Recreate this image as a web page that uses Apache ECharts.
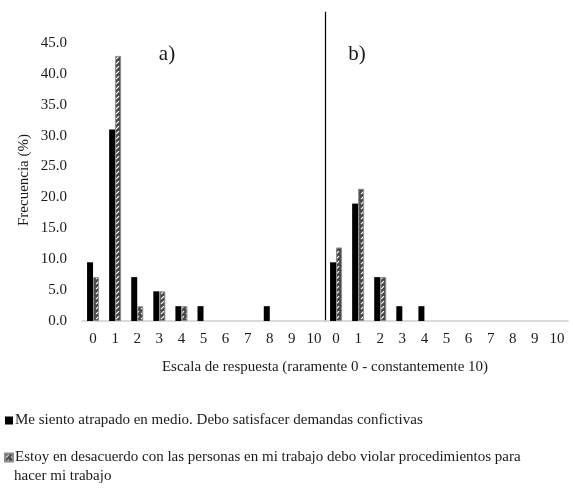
<!DOCTYPE html>
<html>
<head>
<meta charset="utf-8">
<script src="https://cdn.jsdelivr.net/npm/echarts@6/dist/echarts.min.js"></script>
<style>
  html, body { margin: 0; padding: 0; background: #fff; }
  #chart { width: 573px; height: 490px; }
</style>
</head>
<body>
<div id="chart"></div>
<script>
// Response scale 0..10, shown once per panel
const categories = ['0', '1', '2', '3', '4', '5', '6', '7', '8', '9', '10'];

// Panel a) frequencies (%)
const panelA_trapped = [9.5, 31.0, 7.1, 4.8, 2.4, 2.4, 0, 0, 2.4, 0, 0];
const panelA_disagree = [7.1, 42.9, 2.4, 4.8, 2.4, 0, 0, 0, 0, 0, 0];

// Panel b) frequencies (%)
const panelB_trapped = [9.5, 19.0, 7.1, 2.4, 2.4, 0, 0, 0, 0, 0, 0];
const panelB_disagree = [11.9, 21.4, 7.1, 0, 0, 0, 0, 0, 0, 0, 0];

const yTicks = [0, 5, 10, 15, 20, 25, 30, 35, 40, 45];

const nameTrapped = 'Me siento atrapado en medio. Debo satisfacer demandas confictivas';
const nameDisagree = 'Estoy en desacuerdo con las personas en mi trabajo debo violar procedimientos para';

const FONT = 'Liberation Serif';
const TEXT = '#1a1a1a';

// Dark grey fill with short white upward diagonal dashes
function makeHatch() {
  const c = document.createElement('canvas');
  c.width = 5; c.height = 5;
  const g = c.getContext('2d');
  g.fillStyle = '#474747';
  g.fillRect(0, 0, 5, 5);
  g.strokeStyle = '#ffffff';
  g.lineWidth = 1.2;
  g.beginPath();
  g.moveTo(1, 4.2);
  g.lineTo(4, 1.2);
  g.stroke();
  return { image: c, repeat: 'repeat' };
}
const hatch = makeHatch();

// empty categories draw no bar at all (not even a border)
const bars = arr => arr.map(v => (v === 0 ? null : v));

const chart = echarts.init(document.getElementById('chart'), null, { renderer: 'canvas' });

function xAxisFor(idx) {
  return {
    type: 'category',
    gridIndex: idx,
    data: categories,
    boundaryGap: true,
    axisLine: { show: true, lineStyle: { color: '#d0d0d0', width: 1.5 } },
    axisTick: { show: false },
    axisLabel: { interval: 0, margin: 11, fontFamily: FONT, fontSize: 15, color: TEXT }
  };
}

function yAxisFor(idx) {
  const base = {
    type: 'value',
    gridIndex: idx,
    min: 0,
    max: 50,
    interval: 5,
    splitLine: { show: false },
    axisTick: { show: false }
  };
  if (idx === 0) {
    base.axisLine = { show: false };
    base.axisLabel = {
      margin: 15, fontFamily: FONT, fontSize: 15, color: TEXT,
      formatter: v => (yTicks.indexOf(v) >= 0 ? v.toFixed(1) : '')
    };
  } else {
    // panel divider
    base.axisLine = { show: true, lineStyle: { color: '#000', width: 1.2 } };
    base.axisLabel = { show: false };
  }
  return base;
}

function barsFor(idx, trapped, disagree) {
  return [
    {
      name: nameTrapped, type: 'bar', xAxisIndex: idx, yAxisIndex: idx,
      data: bars(trapped), barWidth: 6, barGap: '0%',
      itemStyle: { color: '#000' }
    },
    {
      name: nameDisagree, type: 'bar', xAxisIndex: idx, yAxisIndex: idx,
      data: bars(disagree), barWidth: 6, barGap: '0%',
      itemStyle: { color: hatch, borderColor: '#8c8c8c', borderWidth: 1 }
    }
  ];
}

chart.setOption({
  animation: false,
  backgroundColor: '#fff',
  grid: [
    { left: 82, width: 243, top: 12, bottom: 169 },
    { left: 325, width: 243, top: 12, bottom: 169 }
  ],
  xAxis: [xAxisFor(0), xAxisFor(1)],
  yAxis: [yAxisFor(0), yAxisFor(1)],
  legend: {
    orient: 'vertical',
    left: 4,
    top: 413,
    padding: 0,
    itemWidth: 8,
    itemHeight: 8,
    itemGap: 22,
    selectedMode: false,
    textStyle: { fontFamily: FONT, fontSize: 15, color: TEXT, padding: [0, 0, 0, -3] },
    data: [
      { name: nameTrapped, icon: 'rect' },
      { name: nameDisagree, icon: 'rect' }
    ]
  },
  graphic: [
    {
      type: 'text', x: 24, y: 180, rotation: Math.PI / 2,
      style: { text: 'Frecuencia (%)', font: '15px "' + FONT + '"', fill: TEXT, textAlign: 'center', textVerticalAlign: 'middle' }
    },
    {
      type: 'text', x: 325, y: 367,
      style: { text: 'Escala de respuesta (raramente 0 - constantemente 10)', font: '15px "' + FONT + '"', fill: TEXT, textAlign: 'center', textVerticalAlign: 'middle' }
    },
    {
      type: 'text', x: 167, y: 54,
      style: { text: 'a)', font: '21px "' + FONT + '"', fill: TEXT, textAlign: 'center', textVerticalAlign: 'middle' }
    },
    {
      type: 'text', x: 357, y: 54,
      style: { text: 'b)', font: '21px "' + FONT + '"', fill: TEXT, textAlign: 'center', textVerticalAlign: 'middle' }
    },
    {
      type: 'text', x: 14, y: 476,
      style: { text: 'hacer mi trabajo', font: '15px "' + FONT + '"', fill: TEXT, textAlign: 'left', textVerticalAlign: 'middle' }
    }
  ],
  series: [].concat(
    barsFor(0, panelA_trapped, panelA_disagree),
    barsFor(1, panelB_trapped, panelB_disagree)
  )
});
</script>
</body>
</html>
